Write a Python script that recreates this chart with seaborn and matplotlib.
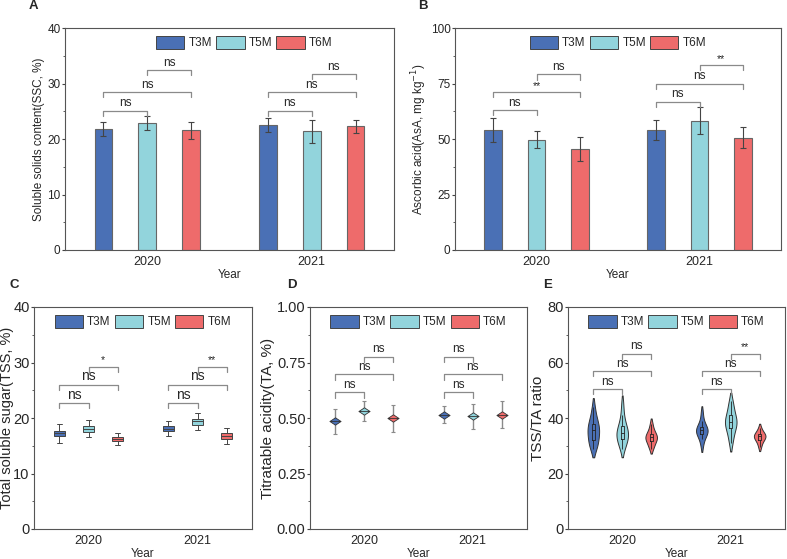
import numpy as np
import pandas as pd
import matplotlib
matplotlib.use('Agg')
import matplotlib.pyplot as plt
import seaborn as sns
from matplotlib.patches import Patch
from matplotlib.path import Path
from matplotlib.ticker import AutoMinorLocator, FormatStrFormatter

sns.set_style('ticks')
plt.rcParams['font.family'] = ['Liberation Sans', 'DejaVu Sans']
plt.rcParams['font.size'] = 8

# 数据 (顺序: 2020 T3M, T5M, T6M, 2021 T3M, T5M, T6M)
years = ['2020', '2021']
groups = ['T3M', 'T5M', 'T6M']
colors = ['#4A70B5', '#92D4DC', '#EE6B6B']

ssc_mean = [21.8, 22.9, 21.6, 22.6, 21.4, 22.3]
ssc_sd = [1.25, 1.2, 1.55, 1.25, 2.1, 1.2]

asa_mean = [53.9, 49.7, 45.5, 53.9, 58.3, 50.6]
asa_sd = [5.4, 3.9, 5.2, 4.5, 6.0, 4.6]

# 箱线图五数概括: 最小, Q1, 中位数, Q3, 最大
tss_stats = [[15.5, 16.7, 17.3, 17.7, 18.9],
             [16.6, 17.4, 18.0, 18.5, 19.6],
             [15.2, 15.9, 16.3, 16.6, 17.3],
             [16.7, 17.6, 18.1, 18.5, 19.4],
             [17.9, 18.8, 19.4, 19.9, 20.9],
             [15.4, 16.3, 16.8, 17.3, 18.2]]

ta_mean = [0.485, 0.530, 0.498, 0.515, 0.507, 0.515]
ta_sd = [0.055, 0.045, 0.062, 0.038, 0.055, 0.060]

ratio_obs = [[29, 30, 31, 32, 33.5, 34.5, 35.5, 36, 37, 38, 39, 41, 44],
             [29, 30.5, 31.5, 32.5, 33.5, 34, 34.5, 35, 36, 37, 38.5, 41, 45],
             [29, 30, 31, 32, 32.5, 33, 33, 33.5, 34, 35, 36, 38],
             [30, 32.5, 33.5, 34.5, 35, 35.5, 35.5, 36, 36.5, 37.5, 39, 42],
             [31, 33, 35, 36.5, 37.5, 38, 38.5, 39, 40, 41, 42.5, 44.5, 46],
             [29.5, 31, 32, 32.5, 33, 33.5, 33.5, 34, 34.5, 35, 36.5]]

# 显著性标注: (年份序号, 左组, 右组, 高度, 文字)
sig_a = [(0, 0, 1, 25.1, 'ns'), (0, 0, 2, 28.4, 'ns'), (0, 1, 2, 32.4, 'ns'),
         (1, 0, 1, 25.1, 'ns'), (1, 0, 2, 28.4, 'ns'), (1, 1, 2, 31.7, 'ns')]
sig_b = [(0, 0, 1, 62.9, 'ns'), (0, 0, 2, 71.0, '**'), (0, 1, 2, 79.1, 'ns'),
         (1, 0, 1, 66.8, 'ns'), (1, 0, 2, 75.0, 'ns'), (1, 1, 2, 83.2, '**')]
sig_c = [(0, 0, 1, 22.7, 'ns'), (0, 0, 2, 26.0, 'ns'), (0, 1, 2, 29.2, '*'),
         (1, 0, 1, 22.7, 'ns'), (1, 0, 2, 26.0, 'ns'), (1, 1, 2, 29.2, '**')]
sig_d = [(0, 0, 1, 0.615, 'ns'), (0, 0, 2, 0.696, 'ns'), (0, 1, 2, 0.777, 'ns'),
         (1, 0, 1, 0.615, 'ns'), (1, 0, 2, 0.696, 'ns'), (1, 0, 1, 0.777, 'ns')]
sig_e = [(0, 0, 1, 50.4, 'ns'), (0, 0, 2, 56.8, 'ns'), (0, 1, 2, 63.2, 'ns'),
         (1, 0, 1, 50.4, 'ns'), (1, 0, 2, 56.8, 'ns'), (1, 1, 2, 63.2, '**')]

year_col = np.repeat(years, 3)
group_col = np.tile(groups, 2)
step = 0.8 / 3


def xpos(i, j):
    return i + (j - 1) * step


def summary_df(vals):
    return pd.DataFrame({'year': year_col, 'group': group_col, 'v': vals})


def obs_df(obs):
    rows = []
    for k, vals in enumerate(obs):
        for v in vals:
            rows.append((year_col[k], group_col[k], v))
    return pd.DataFrame(rows, columns=['year', 'group', 'v'])


W, H = 787, 559


def make_ax(x0, x1, y0, y1):
    return fig.add_axes([x0 / W, 1 - y1 / H, (x1 - x0) / W, (y1 - y0) / H])


def style(ax, ylim, yticks, ylabel, letter, lx, ly, leg_x=0.5, tfs=8.5, lfs=8.5):
    ax.set_xlim(-0.5, 1.5)
    ax.set_ylim(*ylim)
    ax.set_yticks(yticks)
    ax.yaxis.set_minor_locator(AutoMinorLocator(2))
    ax.tick_params(axis='y', which='major', length=2, width=0.8, color='#444',
                   labelsize=tfs, pad=1.2)
    ax.tick_params(axis='y', which='minor', length=1.5, width=0.6, color='#444')
    ax.tick_params(axis='x', length=0, labelsize=9, pad=4)
    for s in ax.spines.values():
        s.set_visible(True)
        s.set_color('#555')
        s.set_linewidth(0.8)
    ax.set_xlabel('Year', fontsize=8.5, labelpad=1)
    ax.set_ylabel(ylabel, fontsize=lfs, labelpad=1.5)
    handles = [Patch(facecolor=c, edgecolor='#444', linewidth=0.7) for c in colors]
    ax.legend(handles, groups, ncol=3, loc='upper center', bbox_to_anchor=(leg_x, 1.0),
              frameon=False, fontsize=8.5, handlelength=2.4, handleheight=1.25,
              handletextpad=0.35, columnspacing=0.35, borderaxespad=0.3)
    fig.text(lx / W, 1 - ly / H, letter, fontsize=9.5, fontweight='bold',
             ha='center', va='center')


def brackets(ax, sigs, ylim, fs=8.5):
    leg = (ylim[1] - ylim[0]) * 0.023
    for i, a, b, y, lab in sigs:
        x1, x2 = xpos(i, a), xpos(i, b)
        ax.plot([x1, x1, x2, x2], [y - leg, y, y, y - leg], color='#8a8a8a', lw=0.9)
        ax.annotate(lab, ((x1 + x2) / 2, y), xytext=(0, 1), textcoords='offset points',
                    ha='center', va='bottom', fontsize=fs if lab == 'ns' else 7.5)


fig = plt.figure(figsize=(7.87, 5.59), dpi=100)

# A 可溶性固形物
ax = make_ax(65, 394, 28, 250)
sns.barplot(data=summary_df(ssc_mean), x='year', y='v', hue='group', palette=colors,
            saturation=1, gap=0.6, errorbar=None, edgecolor='#666', linewidth=0.8,
            legend=False, ax=ax)
for k in range(6):
    ax.errorbar(xpos(k // 3, k % 3), ssc_mean[k], yerr=ssc_sd[k], fmt='none',
                ecolor='#444', elinewidth=0.8, capsize=2, capthick=0.8)
brackets(ax, sig_a, (0, 40))
style(ax, (0, 40), [0, 10, 20, 30, 40], 'Soluble solids content(SSC, %)', 'A', 33, 6,
      leg_x=0.545)

# B 抗坏血酸
ax = make_ax(455, 781, 28, 250)
sns.barplot(data=summary_df(asa_mean), x='year', y='v', hue='group', palette=colors,
            saturation=1, gap=0.6, errorbar=None, edgecolor='#666', linewidth=0.8,
            legend=False, ax=ax)
for k in range(6):
    ax.errorbar(xpos(k // 3, k % 3), asa_mean[k], yerr=asa_sd[k], fmt='none',
                ecolor='#444', elinewidth=0.8, capsize=2, capthick=0.8)
brackets(ax, sig_b, (0, 100))
style(ax, (0, 100), [0, 25, 50, 75, 100], 'Ascorbic acid(AsA, mg kg$^{-1}$)', 'B', 423, 6)

# C 总可溶性糖
ax = make_ax(34, 252, 307, 529)
sns.boxplot(data=obs_df(tss_stats), x='year', y='v', hue='group', palette=colors,
            saturation=1, gap=0.6, whis=(0, 100), linecolor='#444', linewidth=0.7,
            legend=False, ax=ax)
brackets(ax, sig_c, (0, 40), fs=10)
style(ax, (0, 40), [0, 10, 20, 30, 40], 'Total soluble sugar(TSS, %)', 'C', 14, 285,
      tfs=10.5, lfs=10.5)
ax.yaxis.set_label_coords(-0.092, 0.5)

# D 可滴定酸
ax = make_ax(310, 527, 307, 529)
diamond = Path([(-1.5, 0), (0, 1), (1.5, 0), (0, -1), (-1.5, 0), (-1.5, 0), (1.5, 0)],
               [Path.MOVETO, Path.LINETO, Path.LINETO, Path.LINETO, Path.CLOSEPOLY,
                Path.MOVETO, Path.LINETO])
for k in range(6):
    ax.errorbar(xpos(k // 3, k % 3), ta_mean[k], yerr=ta_sd[k], fmt='none',
                ecolor='#8a8a8a', elinewidth=1.0, capsize=1.5, capthick=0.8, zorder=1)
sns.pointplot(data=summary_df(ta_mean), x='year', y='v', hue='group', palette=colors,
              dodge=2 * step, linestyle='none', errorbar=None, marker=diamond,
              markersize=8, markeredgecolor='#333', markeredgewidth=0.6,
              legend=False, ax=ax)
brackets(ax, sig_d, (0, 1))
style(ax, (0, 1), [0, 0.25, 0.5, 0.75, 1.0], 'Titratable acidity(TA, %)', 'D', 292, 285,
      tfs=10.5, lfs=11)
ax.yaxis.set_major_formatter(FormatStrFormatter('%.2f'))

# E 糖酸比
ax = make_ax(568, 785, 307, 529)
df_e = obs_df(ratio_obs)
sns.violinplot(data=df_e, x='year', y='v', hue='group', palette=colors, saturation=1,
               gap=0.6, inner=None, density_norm='width', cut=1.2, linecolor='#333',
               linewidth=0.7, legend=False, ax=ax)
sns.boxplot(data=df_e, x='year', y='v', hue='group', palette=['#222'] * 3, fill=False,
            gap=0.9, showfliers=False, showcaps=False, linewidth=0.6, legend=False, ax=ax)
brackets(ax, sig_e, (0, 80))
style(ax, (0, 80), [0, 20, 40, 60, 80], 'TSS/TA ratio', 'E', 548, 285, tfs=10.5, lfs=11)

fig.savefig('out.png', dpi=100)
